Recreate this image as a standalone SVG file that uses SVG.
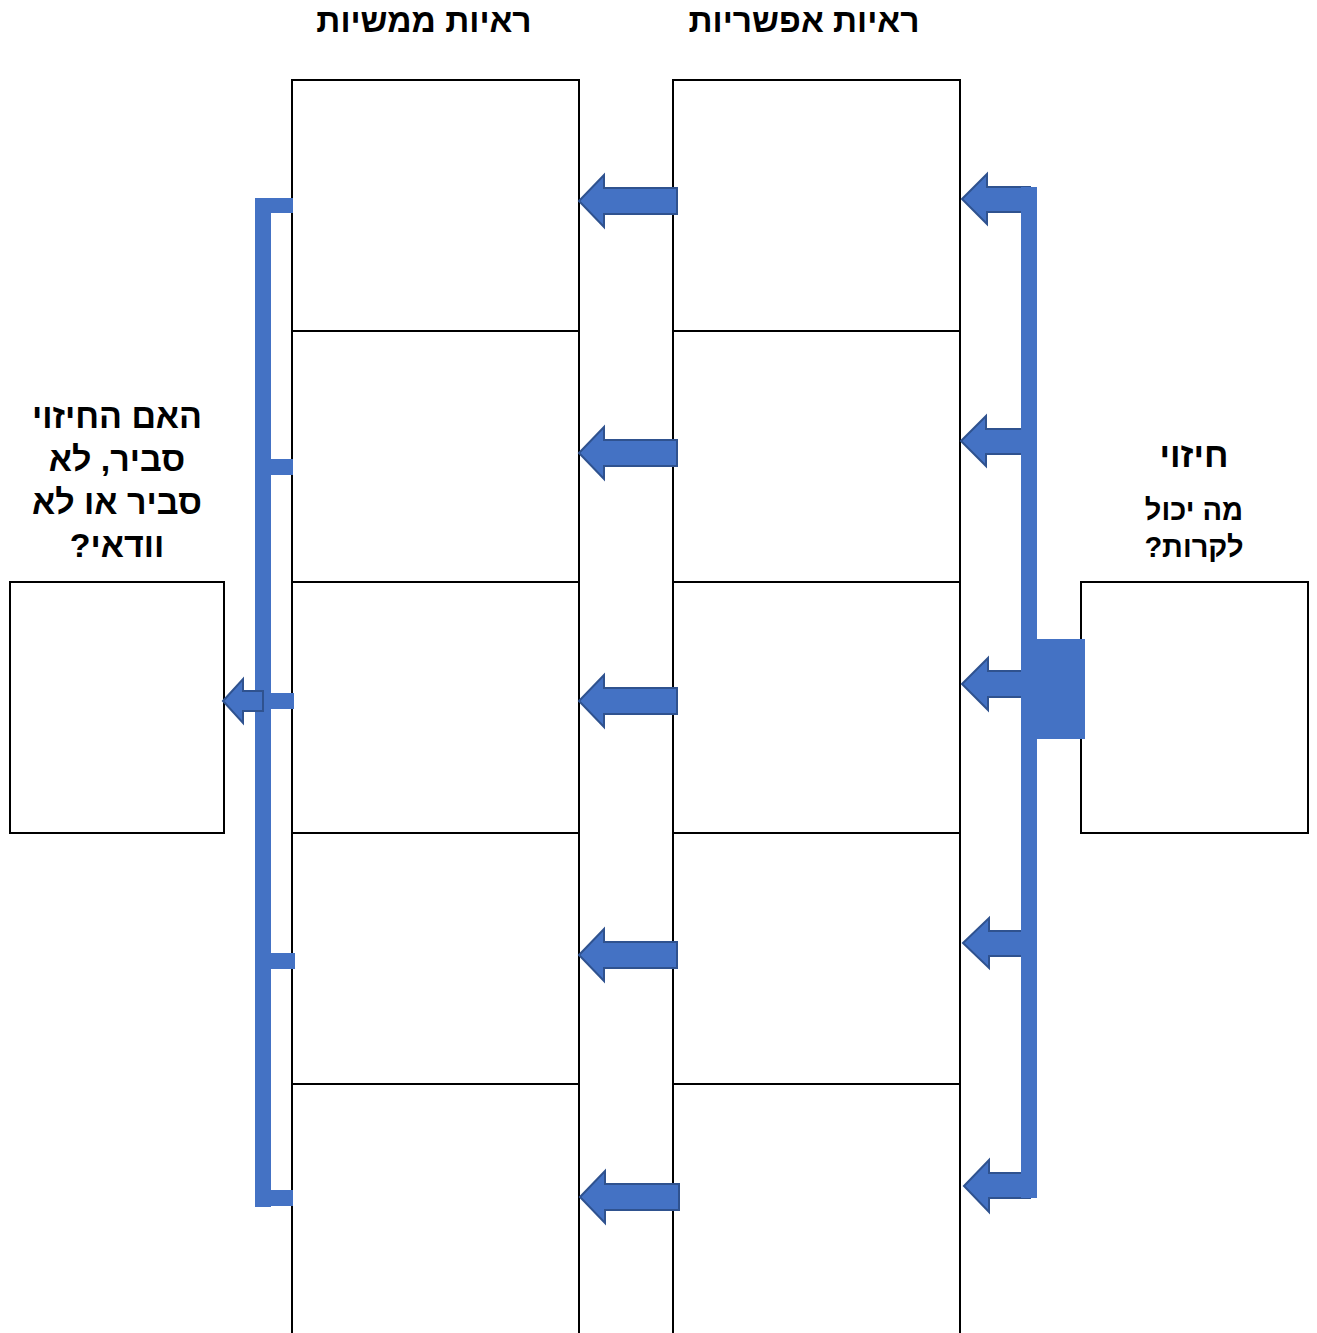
<svg xmlns="http://www.w3.org/2000/svg" width="1317" height="1333" viewBox="0 0 1317 1333">
<style>
.cell{fill:#fff;stroke:#000;stroke-width:2}
.bar{fill:#4472C4}
.arr{fill:#4472C4;stroke:#2F528F;stroke-width:2;stroke-linejoin:miter}
.t{font-family:"Liberation Sans",Arial,sans-serif;font-weight:bold;fill:#000;text-anchor:middle;direction:rtl;unicode-bidi:embed}
</style>
<rect width="1317" height="1333" fill="#fff"/>
<g id="col-actual">
<g id="actual-1"><rect class="cell" x="292" y="80" width="287" height="251"/></g>
<g id="actual-2"><rect class="cell" x="292" y="331" width="287" height="251"/></g>
<g id="actual-3"><rect class="cell" x="292" y="582" width="287" height="251"/></g>
<g id="actual-4"><rect class="cell" x="292" y="833" width="287" height="251"/></g>
<g id="actual-5"><rect class="cell" x="292" y="1084" width="287" height="260"/></g>
</g>
<g id="col-possible">
<g id="possible-1"><rect class="cell" x="673" y="80" width="287" height="251"/></g>
<g id="possible-2"><rect class="cell" x="673" y="331" width="287" height="251"/></g>
<g id="possible-3"><rect class="cell" x="673" y="582" width="287" height="251"/></g>
<g id="possible-4"><rect class="cell" x="673" y="833" width="287" height="251"/></g>
<g id="possible-5"><rect class="cell" x="673" y="1084" width="287" height="260"/></g>
</g>
<g id="likelihood-box"><rect class="cell" x="10" y="582" width="214" height="251"/></g>
<g id="prediction-box"><rect class="cell" x="1081" y="582" width="227" height="251"/></g>
<g id="labels">
<text class="t" x="424" y="32" font-size="33.5">&#x200F;ראיות ממשיות&#x200F;</text>
<text class="t" x="804" y="32" font-size="33.5">&#x200F;ראיות אפשריות&#x200F;</text>
<text class="t" x="117" y="428" font-size="34">&#x200F;האם החיזוי&#x200F;</text>
<text class="t" x="117" y="471" font-size="34">&#x200F;סביר, לא&#x200F;</text>
<text class="t" x="117" y="514" font-size="34">&#x200F;סביר או לא&#x200F;</text>
<text class="t" x="117" y="557" font-size="34">&#x200F;וודאי?&#x200F;</text>
<text class="t" x="1194" y="467" font-size="35">&#x200F;חיזוי&#x200F;</text>
<text class="t" x="1194" y="520" font-size="29">&#x200F;מה יכול&#x200F;</text>
<text class="t" x="1194" y="557" font-size="29">&#x200F;לקרות?&#x200F;</text>
</g>
<g id="connectors">
<path class="arr" d="M579,201 L604,175 L604,188 L677,188 L677,214 L604,214 L604,227 Z"/>
<path class="arr" d="M579,453 L604,427 L604,440 L677,440 L677,466 L604,466 L604,479 Z"/>
<path class="arr" d="M579,701 L604,675 L604,688 L677,688 L677,714 L604,714 L604,727 Z"/>
<path class="arr" d="M579,955 L604,929 L604,942 L677,942 L677,968 L604,968 L604,981 Z"/>
<path class="arr" d="M580,1197 L605,1171 L605,1184 L679,1184 L679,1210 L605,1210 L605,1223 Z"/>
<path class="arr" d="M962,199 L987,174 L987,187 L1030,187 L1030,212 L987,212 L987,224 Z"/>
<path class="arr" d="M961,441 L986,416 L986,429 L1028,429 L1028,454 L986,454 L986,466 Z"/>
<path class="arr" d="M962,684 L988,658 L988,671 L1028,671 L1028,697 L988,697 L988,710 Z"/>
<path class="arr" d="M963,943 L989,918 L989,931 L1028,931 L1028,956 L989,956 L989,968 Z"/>
<path class="arr" d="M964,1186 L989,1160 L989,1173 L1030,1173 L1030,1198 L989,1198 L989,1212 Z"/>
<rect class="bar" x="1021" y="187" width="16" height="1011"/>
<rect class="bar" x="1021" y="639" width="64" height="100"/>
<rect class="bar" x="255" y="198" width="16" height="1009"/>
<rect class="bar" x="255" y="198" width="38" height="15"/>
<rect class="bar" x="263" y="459" width="30" height="16"/>
<rect class="bar" x="263" y="693" width="31" height="16"/>
<rect class="bar" x="263" y="953" width="32" height="16"/>
<rect class="bar" x="256" y="1190" width="37" height="16"/>
<path class="arr" d="M223,701 L243,679 L243,691 L263,691 L263,711 L243,711 L243,723 Z"/>
</g>
</svg>
